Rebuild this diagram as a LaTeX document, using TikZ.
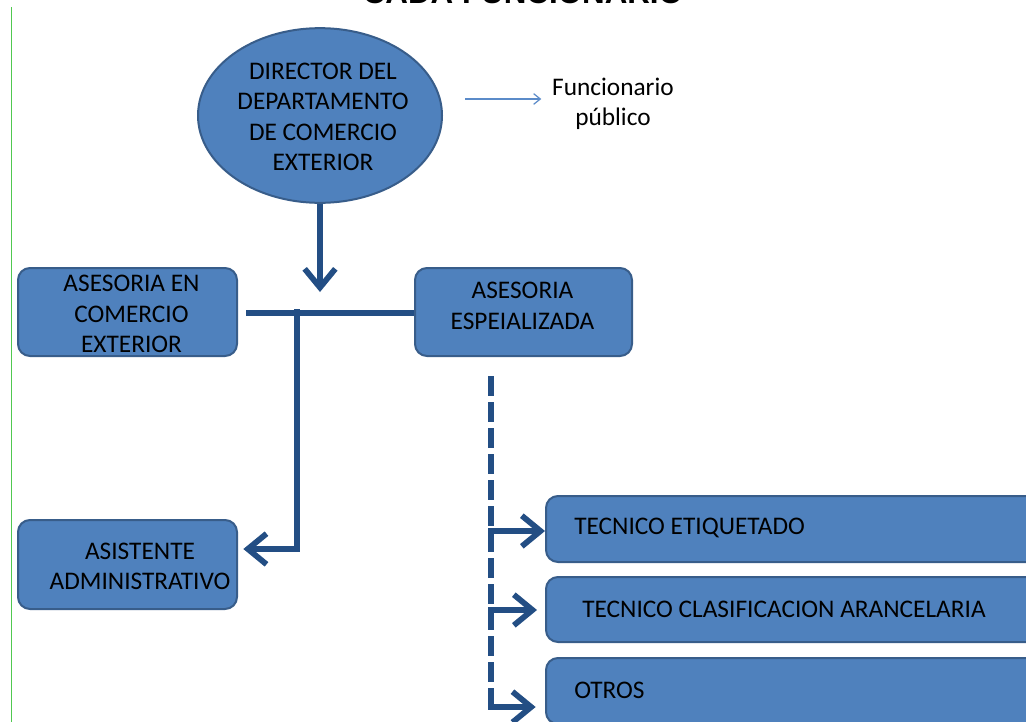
\documentclass[tikz,border=0pt]{standalone}
\usepackage{fontspec}
\setmainfont{Carlito}
\newfontfamily\titlefont{Liberation Sans}
\usetikzlibrary{arrows.meta,shapes.geometric,calc}
\definecolor{boxfill}{HTML}{4F81BD}
\definecolor{boxline}{HTML}{385D8A}
\definecolor{conncol}{RGB}{35,78,132}
\definecolor{thinarrow}{HTML}{5B8BC9}
\definecolor{edge}{RGB}{80,200,80}
\tikzset{
  box/.style={draw=boxline, line width=1.5pt, fill=boxfill, rounded corners=9pt, inner sep=0pt},
  oval/.style={ellipse, draw=boxline, line width=1.5pt, fill=boxfill, inner sep=0pt},
  lbl/.style={align=center, font=\fontsize{19}{22.9}\selectfont, text=black, inner sep=0pt},
  conn/.style={draw=conncol, line width=4.3pt},
  barb/.style={-{Straight Barb[length=14pt,width=23pt]}},
  dashconn/.style={conn, dash pattern=on 15pt off 4.5pt}
}
\begin{document}
\begin{tikzpicture}[x=0.75pt,y=-0.75pt]
\useasboundingbox (0,0) rectangle (1026,722);
\fill[white] (0,0) rectangle (1026,722);
\draw[edge, line width=0.75pt] (11,7) -- (11,722);
% title (cut off at top)
\node[anchor=base, inner sep=0pt, font=\titlefont\bfseries\fontsize{23.5}{28}\selectfont] (title) at (523,3) {CADA FUNCIONARIO};
% director
\node[oval, minimum width=183pt, minimum height=131pt] (dir) at (320,115.5) {};
\node[lbl] (dirt) at (323,117) {DIRECTOR DEL\\DEPARTAMENTO\\DE COMERCIO\\EXTERIOR};
% funcionario publico
\node[lbl] (func) at (613,104) {Funcionario\\público};
\coordinate (fs) at (465,99);
\draw[thinarrow, line width=0.9pt, -{Straight Barb[length=5pt,width=8pt]}] (fs) -- (fs -| func.west) [shorten >=8pt];
% boxes
\node[box, minimum width=164.25pt, minimum height=66pt] (A) at (127.5,312) {};
\node[lbl] (At) at (131.5,314) {ASESORIA EN\\COMERCIO\\EXTERIOR};
\node[box, minimum width=162.75pt, minimum height=66pt] (B) at (523.5,312) {};
\node[lbl] (Bt) at (522.5,306) {ASESORIA\\ESPEIALIZADA};
\node[box, minimum width=164.25pt, minimum height=66.75pt] (C) at (127.5,564.5) {};
\node[lbl] (Ct) at (140,566.5) {ASISTENTE\\ADMINISTRATIVO};
\node[box, minimum width=370.5pt, minimum height=49.5pt] (D) at (793,529) {};
\node[lbl, anchor=west] (Dt) at (574,528) {TECNICO ETIQUETADO};
\node[box, minimum width=370.5pt, minimum height=48.75pt] (E) at (793,609.5) {};
\node[lbl, anchor=west] (Et) at (582,609) {TECNICO CLASIFICACION ARANCELARIA};
\node[box, minimum width=370.5pt, minimum height=49.5pt] (F) at (793,691) {};
\node[lbl, anchor=west] (Ft) at (574,690) {OTROS};
% connectors
\coordinate (dtip) at (320,292);
\draw[conn, barb] (dir.south) -- (dtip);
\coordinate (h1) at (246,313);
\draw[conn] (h1) -- (h1 -| B.west);
\coordinate (v1) at (297,309);
\coordinate (v2) at (297,549);
\draw[conn, barb] (v1) -- (v2) -- ([xshift=4pt]v2 -| C.east);
\coordinate (d1) at (491,376);
\coordinate (d2) at (491,709);
\draw[dashconn] (d1) -- (d2);
\coordinate (b1) at (491,531);
\coordinate (b2) at (491,610);
\coordinate (b3) at (491,707);
\draw[conn, barb] ([xshift=-2.1pt]b1) -- (b1 -| D.west);
\draw[conn, barb] ([xshift=-2.1pt]b2) -- ([xshift=-6pt]b2 -| E.west);
\draw[conn, barb] ([xshift=-2.1pt]b3) -- ([xshift=-7pt]b3 -| F.west);
\end{tikzpicture}
\end{document}
